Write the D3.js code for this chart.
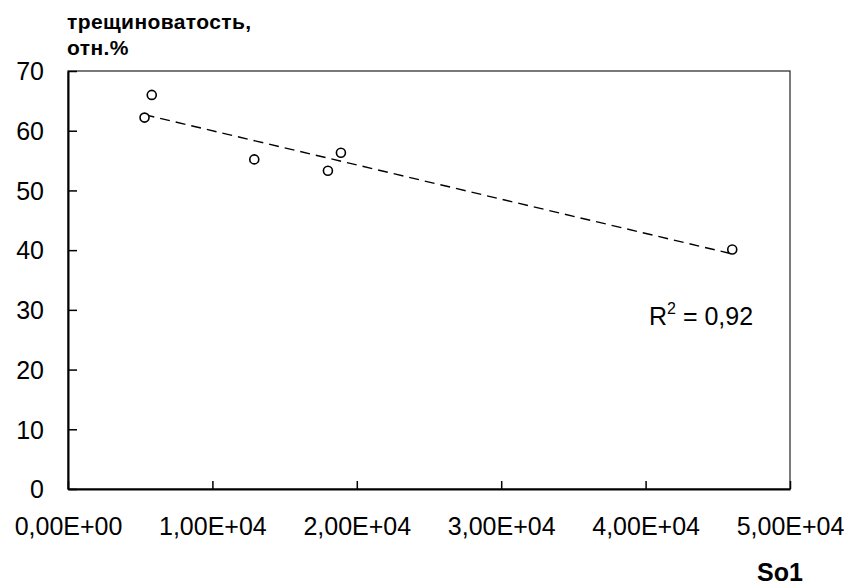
<!DOCTYPE html>
<html lang="ru">
<head>
    <meta charset="UTF-8">
    <title>трещиноватость vs So1</title>
    <script src="https://d3js.org/d3.v7.min.js"></script>
    <style>
        body {
            margin: 0;
            background: #fff;
            font-family: Arial, "Liberation Sans", sans-serif;
        }
        svg text {
            fill: #000;
        }
    </style>
</head>
<body>
    <div id="chart"></div>

    <script>
        // Data
        const soValues = [5800, 5300, 12900, 18000, 18900, 46000];
        const crackValues = [66.0, 62.2, 55.2, 53.3, 56.3, 40.1];
        const xTicks = [0, 10000, 20000, 30000, 40000, 50000];
        const yTicks = [0, 10, 20, 30, 40, 50, 60, 70];
        const yTitleLines = ['трещиноватость,', 'отн.%'];
        const xTitle = 'So1';

        const points = soValues.map((x, i) => ({ x: x, y: crackValues[i] }));

        // Linear least-squares trend line, as the spreadsheet drew it
        const mx = d3.mean(soValues), my = d3.mean(crackValues);
        const sxy = d3.sum(points, d => (d.x - mx) * (d.y - my));
        const sxx = d3.sum(points, d => (d.x - mx) * (d.x - mx));
        const syy = d3.sum(points, d => (d.y - my) * (d.y - my));
        const slope = sxy / sxx;
        const intercept = my - slope * mx;
        const r2 = (sxy * sxy) / (sxx * syy);
        const trendX = d3.extent(soValues);

        const W = 852, H = 585;
        const margin = { top: 71, right: 62, bottom: 96, left: 68 };
        const width = W - margin.left - margin.right;
        const height = H - margin.top - margin.bottom;

        const svg = d3.select('#chart')
            .append('svg')
            .attr('width', W)
            .attr('height', H);

        const g = svg.append('g')
            .attr('transform', `translate(${margin.left},${margin.top})`);

        const x = d3.scaleLinear().domain([0, 50000]).range([0, width]);
        const y = d3.scaleLinear().domain([0, 70]).range([height, 0]);

        // 10000 -> "1,00E+04"
        const fmtX = d => d3.format('.2e')(d).replace('.', ',')
            .replace(/e([+-])(\d)$/, 'E$10$2').replace(/e/, 'E');

        // plot area frame
        g.append('rect')
            .attr('x', 0).attr('y', 0)
            .attr('width', width).attr('height', height)
            .attr('fill', 'none')
            .attr('stroke', '#333')
            .attr('stroke-width', 1.3);

        // X axis, ticks pointing inward
        const xAxis = g.append('g')
            .attr('transform', `translate(0,${height})`)
            .call(d3.axisBottom(x).tickValues(xTicks).tickSize(-8).tickSizeOuter(0).tickFormat(fmtX));
        xAxis.select('.domain').attr('stroke', '#000').attr('stroke-width', 2);
        xAxis.selectAll('.tick line').attr('stroke', '#000').attr('stroke-width', 1.5);
        xAxis.selectAll('.tick text')
            .attr('y', 28)
            .attr('dy', '0.71em')
            .style('font-size', '25px')
            .style('font-family', 'Arial, "Liberation Sans", sans-serif');

        // Y axis, ticks pointing inward
        const yAxis = g.append('g')
            .call(d3.axisLeft(y).tickValues(yTicks).tickSize(-9).tickSizeOuter(0));
        yAxis.select('.domain').attr('stroke', '#000').attr('stroke-width', 2);
        yAxis.selectAll('.tick line').attr('stroke', '#000').attr('stroke-width', 1.5);
        yAxis.selectAll('.tick text')
            .attr('x', -24)
            .attr('dy', '0.35em')
            .style('font-size', '25px')
            .style('font-family', 'Arial, "Liberation Sans", sans-serif');

        // trend line
        g.append('line')
            .attr('x1', x(trendX[0]))
            .attr('y1', y(intercept + slope * trendX[0]))
            .attr('x2', x(trendX[1]))
            .attr('y2', y(intercept + slope * trendX[1]))
            .attr('stroke', '#000')
            .attr('stroke-width', 1.4)
            .attr('stroke-dasharray', '10,6');

        // points
        g.selectAll('circle.pt')
            .data(points)
            .enter()
            .append('circle')
            .attr('class', 'pt')
            .attr('cx', d => x(d.x))
            .attr('cy', d => y(d.y))
            .attr('r', 4.5)
            .attr('fill', '#fff')
            .attr('stroke', '#000')
            .attr('stroke-width', 1.6);

        // R² annotation
        const r2Text = svg.append('text')
            .attr('x', 649)
            .attr('y', 325)
            .style('font-size', '25px');
        r2Text.append('tspan').text('R');
        r2Text.append('tspan').attr('dy', -11).style('font-size', '16px').text('2');
        r2Text.append('tspan').attr('dy', 11).text(' = ' + d3.format('.2f')(r2).replace('.', ','));

        // Y title (two lines, bold)
        svg.selectAll('text.ytitle')
            .data(yTitleLines)
            .enter()
            .append('text')
            .attr('class', 'ytitle')
            .attr('x', 67)
            .attr('y', (d, i) => 29 + i * 26)
            .style('font-size', '21px')
            .style('font-weight', 'bold')
            .style('letter-spacing', '0.4px')
            .text(d => d);

        // X title
        svg.append('text')
            .attr('x', 757)
            .attr('y', 581)
            .style('font-size', '25px')
            .style('font-weight', 'bold')
            .text(xTitle);
    </script>
</body>
</html>
